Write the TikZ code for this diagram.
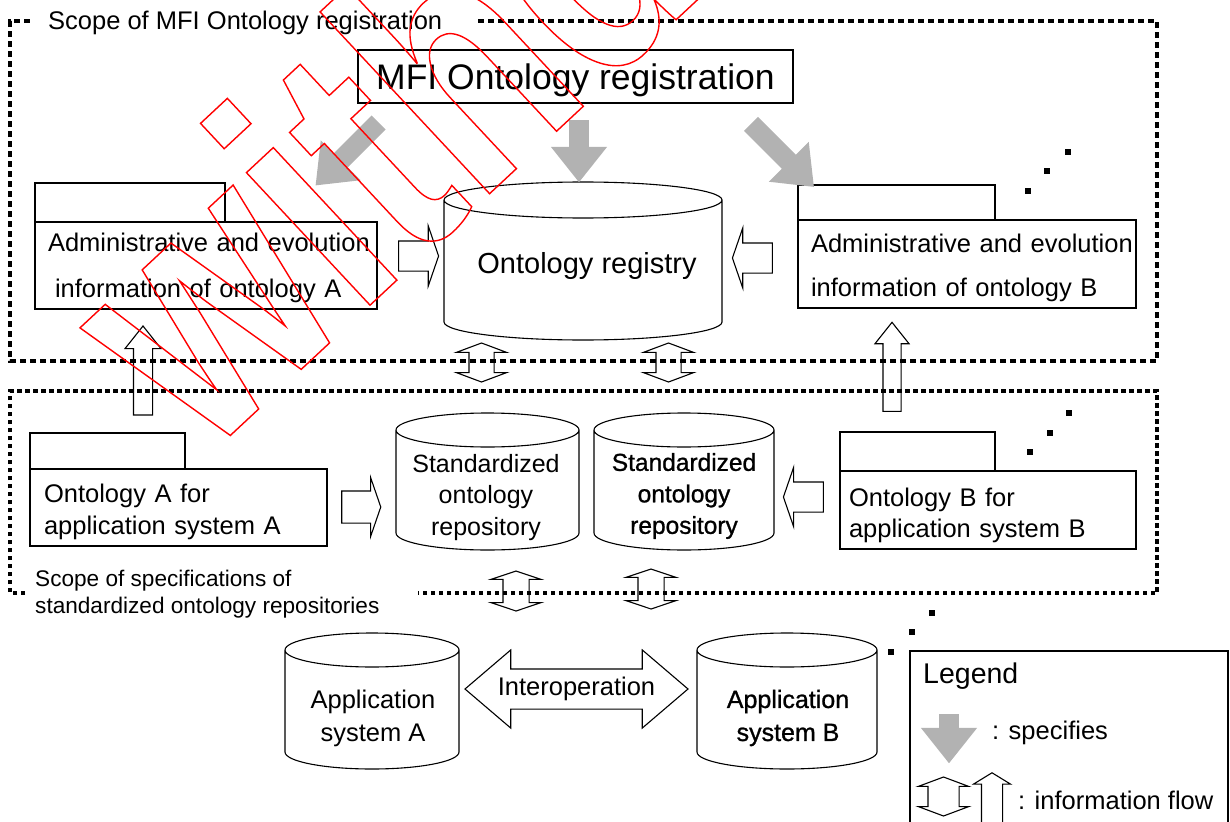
\documentclass[tikz,border=0pt]{standalone}
\usepackage{fontspec}
\setmainfont{Liberation Sans}
\newfontfamily\heavyfont[FakeBold=1]{Liberation Sans}
\newfontfamily\wmfont[FakeStretch=0.78]{Liberation Sans}
\usepackage{tikz}
\usetikzlibrary{shapes.arrows, positioning}
\definecolor{Spec} {HTML}{B2B2B2}
\definecolor{Stamp}{HTML}{FF0000}
\newcommand{\fs}[2]{\fontsize{#1pt}{#2pt}\selectfont}
% stroke-only text (pdf text render mode 1)
\newcommand{\hollowtext}[1]{\special{pdf:literal direct 1 Tr 1.4 w}#1\special{pdf:literal direct 0 Tr}}
% cylinder round a node: north = top lid centre, south = bottom lid centre
\newcommand{\drum}[3]{\draw[line width=1.1pt] (#1.north west) -- (#1.south west)
  arc[start angle=180, end angle=360, x radius=#2pt, y radius=#3pt] -- (#1.north east)
  arc[start angle=0, end angle=360, x radius=#2pt, y radius=#3pt];}
\tikzset{
  box/.style={draw, line width=1.1pt, outer sep=0pt, inner ysep=0pt, align=left,
              font=\fs{25.5}{46}},
  tab/.style={draw, line width=1.1pt, outer sep=0pt, inner sep=0pt},
  drum/.style={inner sep=0pt, outer sep=0pt},
  flow/.style={single arrow, draw, line width=1.1pt, inner xsep=0pt, inner ysep=14.5pt,
               outer sep=0pt, single arrow head extend=15pt, single arrow tip angle=142,
               minimum height=40pt},
  upflow/.style={single arrow, draw, line width=1.1pt, inner xsep=0pt, inner ysep=9pt,
               outer sep=0pt, single arrow head extend=8.5pt, single arrow tip angle=77,
               minimum height=89pt, rotate=90},
  flow2/.style={double arrow, draw, line width=1.1pt, inner xsep=0pt, inner ysep=12pt,
               outer sep=0pt, double arrow head extend=12.5pt, double arrow tip angle=139,
               minimum height=39pt},
  spec/.style={single arrow, fill=Spec, inner xsep=0pt, inner ysep=9.7pt, outer sep=0pt,
               single arrow head extend=18.3pt, single arrow tip angle=77},
  scope/.style={dash pattern=on 6pt off 4pt, line width=4pt},
  sqdot/.style={fill, minimum size=6pt, inner sep=0pt}
}

\begin{document}
\begin{tikzpicture}[x=1pt, y=-1pt]
  \useasboundingbox (0,0) rectangle (1230,821);
  % scope frames
  \node[inner xsep=16pt, inner ysep=0pt, anchor=west, font=\fs{25.5}{30}] (t1) at (32,23)
    {Scope of MFI Ontology registration};
  \draw[scope] ([xshift=20pt, yshift=2pt]t1.east) -- (1157,21) -- (1157,361) -- (10,361)
    -- (10,21) -- ([yshift=2pt]t1.west);
  \node[anchor=base west, align=left, inner sep=0pt, font=\fs{22.6}{27}] (t2) at (35,613)
    {Scope of specifications of\\standardized ontology repositories};
  \draw[scope, dash pattern=on 4.5pt off 3.5pt, line width=3.4pt]
    (25,593) -- (10,593) -- (10,391) -- (1157,391) -- (1157,593) -- (418,593);

  % registration
  \node[draw, line width=1.1pt, minimum width=435pt, minimum height=53pt,
        font=\fs{35.5}{40}] (M) at (575.5,76.5) {\rule{0pt}{34pt}MFI Ontology registration};
  \node[drum, minimum width=278pt, minimum height=122pt] (R) at (583,261) {};
  \drum{R}{139}{18}
  \node[font=\fs{29}{34}] (Rt) at (587,266) {Ontology registry};

  \node[box, minimum height=87pt, text width=316pt, inner xsep=13pt] (admA) at (206,265.5)
    {\mbox{\rule{0pt}{22.6pt}Administrative and evolution}\\\mbox{\hspace*{7pt}information of ontology A}};
  \node[tab, minimum width=190pt, minimum height=39pt, above right=0pt and 0pt of admA.north west] (admAt) {};
  \node[box, minimum height=88pt, text width=312pt, inner xsep=13pt, font=\fs{25.5}{44}] (admB) at (967,264)
    {\mbox{\rule{0pt}{26pt}Administrative and evolution}\\\mbox{information of ontology B}};
  \node[tab, minimum width=197pt, minimum height=35pt, above right=0pt and 0pt of admB.north west] (admBt) {};

  \node[spec, minimum height=89pt, rotate=-135] (g1) at (351.5,149.5) {};
  \node[spec, minimum height=62pt, rotate=-90]  (g2) at (579,145) {};
  \node[spec, minimum height=89pt, rotate=-45]  (g3) at (778,151) {};

  \node[flow] (f1) at (416,256) {};
  \node[flow, rotate=180] (f2) at (755,258) {};

  % repositories
  \node[drum, minimum width=183pt, minimum height=103pt] (S1) at (487.5,481.5) {};
  \drum{S1}{91.5}{17}
  \node[drum, minimum width=180pt, minimum height=103pt] (S2) at (684,481.5) {};
  \drum{S2}{90}{17}
  \node[align=center, font=\heavyfont\fs{24.5}{31.5}] (S2t) at (684,496)
    {Standardized\\ontology\\repository};

  \node[drum, minimum width=174pt, minimum height=102pt] (appA) at (372,701) {};
  \drum{appA}{87}{17}
  \node[drum, minimum width=180pt, minimum height=102pt] (appB) at (787,701) {};
  \drum{appB}{90}{17}
  \node[align=center, font=\heavyfont\fs{25}{33}] (appBt) at (788,718) {Application\\system B};

  \node[align=center, font=\fs{25}{31.5}] (S1t) at (486,497.5)
    {Standardized\\ontology\\repository};
  \node[align=center, font=\fs{25.5}{33}] (appAt) at (373,718.5) {Application\\system A};

  \node[box, minimum height=77pt, text width=269pt, inner xsep=14pt, font=\fs{25.5}{32}] (ontA) at (178.5,507.5)
    {\mbox{\rule{0pt}{27.6pt}Ontology A for}\\\mbox{application system A}};
  \node[tab, minimum width=155pt, minimum height=36pt, above right=0pt and 0pt of ontA.north west] (ontAt) {};
  \node[box, minimum height=78pt, text width=278pt, inner xsep=9pt, font=\fs{25.5}{31}] (ontB) at (988,510)
    {\mbox{\rule{0pt}{28.6pt}Ontology B for}\\\mbox{application system B}};
  \node[tab, minimum width=155pt, minimum height=39pt, above right=0pt and 0pt of ontB.north west] (ontBt) {};

  \node[flow, inner ysep=15.5pt, single arrow head extend=13.5pt, minimum height=39pt] (f3) at (358.5,507) {};
  \node[flow, rotate=180, single arrow head extend=14.5pt] (f4) at (806,497) {};
  \node[upflow] (u1) at (143,376.5) {};
  \node[upflow, inner ysep=8.5pt, single arrow head extend=8pt] (u2) at (892,372.5) {};
  \node[flow2, rotate=90] (v1) at (481.5,362.5) {};
  \node[flow2, rotate=90] (v2) at (668.5,362.5) {};
  \node[flow2, rotate=90, minimum height=40pt, inner ysep=12.5pt, double arrow head extend=12pt,
        double arrow tip angle=143] (v3) at (516,591) {};
  \node[flow2, rotate=90, minimum height=40pt, inner ysep=12.5pt, double arrow head extend=12pt,
        double arrow tip angle=143] (v4) at (651,589) {};
  \node[flow2, inner ysep=8pt, text height=18pt, text depth=5pt, double arrow head extend=19pt,
        double arrow tip angle=81, minimum height=223pt, font=\fs{25.5}{30}] (io) at (576.5,689)
    {Interoperation};

  % more of the same
  \node[sqdot] (p1) at (1068,152) {};
  \node[sqdot] (p2) at (1047,171) {};
  \node[sqdot] (p3) at (1028,191) {};
  \node[sqdot] (p4) at (1069,413) {};
  \node[sqdot] (p5) at (1050,433) {};
  \node[sqdot] (p6) at (1030,452) {};
  \node[sqdot] (p7) at (932,613) {};
  \node[sqdot] (p8) at (912,632) {};
  \node[sqdot] (p9) at (891,652) {};

  % legend
  \node[draw, line width=1.1pt, outer sep=0pt, minimum width=318pt, minimum height=190pt,
        anchor=north west] (L) at (910,651) {};
  \node[inner sep=0pt, font=\fs{28.5}{34}, below right=12pt and 13pt of L.north west] (Lt) {Legend};
  \node[spec, minimum height=49pt, rotate=-90] (Lg) at (949,732.5) {};
  \node[inner sep=0pt, anchor=west, font=\fs{25.5}{30}] (Ls) at (992,733) {: specifies};
  \node[flow2, rotate=90, inner ysep=15pt, double arrow head extend=9.5pt] (Ld) at (943.5,796.5) {};
  \node[upflow, minimum height=50pt, inner ysep=10pt, single arrow head extend=8pt,
        single arrow tip angle=117] (Lu) at (992,801) {};
  \node[inner sep=0pt, anchor=west, font=\fs{25.5}{30}] (Lf) at (1018,800) {: information flow};

  % stamp over everything
  \node[text=Stamp, anchor=base west, rotate=43, inner sep=0pt,
        font=\wmfont\bfseries\fs{343}{343}] (wm) at (204,460) {\hollowtext{withdrawn}};
\end{tikzpicture}
\end{document}
